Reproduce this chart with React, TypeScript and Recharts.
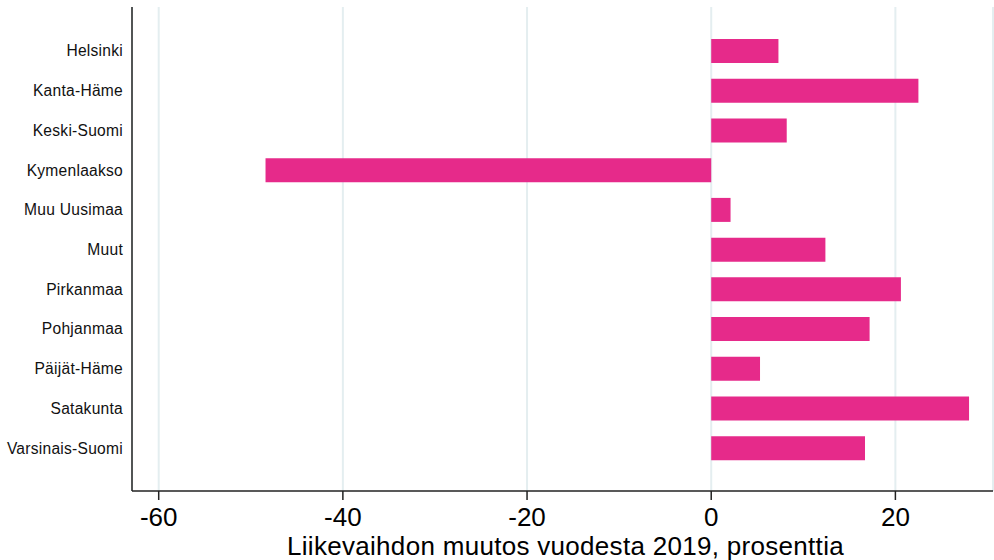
import React from "react";
import { BarChart, Bar, XAxis, YAxis, CartesianGrid } from "recharts";

const regions = [
  "Helsinki",
  "Kanta-Häme",
  "Keski-Suomi",
  "Kymenlaakso",
  "Muu Uusimaa",
  "Muut",
  "Pirkanmaa",
  "Pohjanmaa",
  "Päijät-Häme",
  "Satakunta",
  "Varsinais-Suomi",
];
const changes = [7.3, 22.5, 8.2, -48.4, 2.1, 12.4, 20.6, 17.2, 5.3, 28.0, 16.7];
const xTicks = [-60, -40, -20, 0, 20];
const xTitle = "Liikevaihdon muutos vuodesta 2019, prosenttia";

const data = regions.map((name, i) => ({ name, value: changes[i] }));

const FONT = "'Liberation Sans', Arial, Helvetica, sans-serif";

export default function App() {
  return (
    <div style={{ position: "absolute", left: 0, top: 0 }}>
      <BarChart
        width={994}
        height={560}
        data={data}
        layout="vertical"
        margin={{ top: 7, right: 1, left: 0, bottom: 0 }}
      >
        <CartesianGrid horizontal={false} stroke="#e4eef0" strokeWidth={2} />
        <XAxis
          type="number"
          domain={[-62.9, 30.6]}
          ticks={xTicks}
          allowDataOverflow
          height={69}
          stroke="#222"
          strokeWidth={1.5}
          tickSize={9}
          tickMargin={8}
          tick={{ fill: "#000", fontSize: 26, fontFamily: FONT }}
          label={{
            value: xTitle,
            position: "insideBottom",
            offset: 5.5,
            dx: 3,
            fill: "#000",
            fontSize: 26,
            letterSpacing: 0.3,
            fontFamily: FONT,
          }}
        />
        <YAxis
          type="category"
          dataKey="name"
          width={132}
          padding={{ top: 24, bottom: 23 }}
          stroke="#222"
          strokeWidth={1.5}
          tickLine={false}
          tickSize={6}
          tickMargin={3}
          interval={0}
          tick={{ fill: "#111", fontSize: 15.6, letterSpacing: 0.25, fontFamily: FONT }}
        />
        <Bar dataKey="value" fill="#e62a8a" barSize={24} isAnimationActive={false} />
      </BarChart>
    </div>
  );
}
